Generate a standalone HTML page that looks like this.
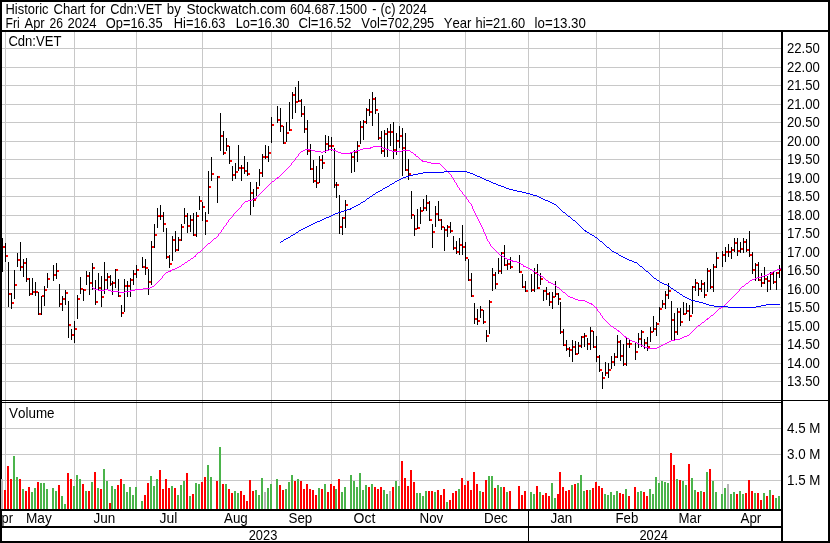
<!DOCTYPE html>
<html lang="en"><head><meta charset="utf-8"><title>Historic Chart for Cdn:VET</title>
<style>html,body{margin:0;padding:0;background:#fff;overflow:hidden}svg{display:block}text{font-family:"Liberation Sans",Arial,sans-serif;font-size:14.5px;font-kerning:none;fill:#000}</style></head><body>
<svg width="830" height="543" viewBox="0 0 830 543">
<rect x="0" y="0" width="830" height="543" fill="#fff"/>
<g shape-rendering="crispEdges">
<path d="M2 48h779v1h-779zM2 67h779v1h-779zM2 85h779v1h-779zM2 104h779v1h-779zM2 122h779v1h-779zM2 141h779v1h-779zM2 159h779v1h-779zM2 178h779v1h-779zM2 196h779v1h-779zM2 215h779v1h-779zM2 233h779v1h-779zM2 252h779v1h-779zM2 270h779v1h-779zM2 289h779v1h-779zM2 307h779v1h-779zM2 326h779v1h-779zM2 344h779v1h-779zM2 363h779v1h-779zM2 381h779v1h-779zM2 428h779v1h-779zM2 454h779v1h-779zM2 480h779v1h-779zM5 32h1v477h-1zM74 32h1v477h-1zM136 32h1v477h-1zM202 32h1v477h-1zM271 32h1v477h-1zM331 32h1v477h-1zM399 32h1v477h-1zM465 32h1v477h-1zM528 32h1v477h-1zM596 32h1v477h-1zM659 32h1v477h-1zM722 32h1v477h-1z" fill="#c8c8c8"/>
<path d="M4 490h2v19h-2zM7 466h2v43h-2zM10 479h2v30h-2zM19 479h2v30h-2zM25 491h2v18h-2zM28 487h2v22h-2zM37 482h2v27h-2zM58 485h2v24h-2zM67 473h2v36h-2zM70 479h2v30h-2zM82 484h2v25h-2zM88 491h2v18h-2zM94 472h2v37h-2zM100 489h2v20h-2zM109 503h2v6h-2zM117 485h2v24h-2zM120 479h2v30h-2zM144 495h2v14h-2zM147 483h2v26h-2zM159 470h2v39h-2zM162 489h2v20h-2zM165 479h2v30h-2zM168 488h2v21h-2zM174 488h2v21h-2zM186 473h2v36h-2zM192 494h2v15h-2zM201 482h2v27h-2zM204 477h2v32h-2zM216 481h2v28h-2zM222 484h2v25h-2zM228 489h2v20h-2zM231 493h2v16h-2zM240 491h2v18h-2zM243 495h2v14h-2zM246 501h2v8h-2zM249 480h2v29h-2zM252 491h2v18h-2zM279 485h2v24h-2zM282 490h2v19h-2zM294 481h2v28h-2zM300 481h2v28h-2zM303 489h2v20h-2zM306 484h2v25h-2zM309 489h2v20h-2zM312 490h2v19h-2zM315 495h2v14h-2zM321 489h2v20h-2zM327 492h2v17h-2zM330 484h2v25h-2zM333 486h2v23h-2zM338 479h2v30h-2zM368 487h2v22h-2zM374 487h2v22h-2zM377 489h2v20h-2zM380 487h2v22h-2zM392 487h2v22h-2zM401 461h2v48h-2zM404 478h2v31h-2zM407 486h2v23h-2zM410 470h2v39h-2zM413 482h2v27h-2zM428 491h2v18h-2zM431 491h2v18h-2zM437 490h2v19h-2zM440 495h2v14h-2zM443 489h2v20h-2zM449 500h2v9h-2zM452 493h2v16h-2zM455 491h2v18h-2zM461 478h2v31h-2zM464 485h2v24h-2zM467 481h2v28h-2zM470 490h2v19h-2zM473 472h2v37h-2zM476 484h2v25h-2zM482 492h2v17h-2zM485 480h2v29h-2zM494 488h2v21h-2zM503 487h2v22h-2zM509 491h2v18h-2zM518 486h2v23h-2zM521 495h2v14h-2zM524 491h2v18h-2zM536 486h2v23h-2zM542 495h2v14h-2zM545 493h2v16h-2zM548 496h2v13h-2zM557 494h2v15h-2zM559 472h2v37h-2zM562 487h2v22h-2zM565 491h2v18h-2zM568 490h2v19h-2zM574 484h2v25h-2zM586 490h2v19h-2zM592 488h2v21h-2zM595 482h2v27h-2zM598 486h2v23h-2zM601 488h2v21h-2zM619 493h2v16h-2zM622 494h2v15h-2zM628 496h2v13h-2zM634 487h2v22h-2zM643 492h2v17h-2zM646 496h2v13h-2zM670 453h2v56h-2zM673 465h2v44h-2zM679 480h2v29h-2zM688 464h2v45h-2zM697 492h2v17h-2zM703 492h2v17h-2zM709 469h2v40h-2zM736 494h2v15h-2zM745 493h2v16h-2zM748 480h2v29h-2zM751 491h2v18h-2zM757 493h2v16h-2zM760 500h2v9h-2zM766 496h2v13h-2zM772 495h2v14h-2z" fill="#ff0000"/>
<path d="M13 456h2v53h-2zM16 477h2v32h-2zM22 489h2v20h-2zM31 492h2v17h-2zM34 488h2v21h-2zM40 483h2v26h-2zM43 483h2v26h-2zM46 489h2v20h-2zM52 488h2v21h-2zM55 491h2v18h-2zM61 496h2v13h-2zM64 504h2v5h-2zM73 486h2v23h-2zM76 475h2v34h-2zM79 479h2v30h-2zM85 491h2v18h-2zM91 482h2v27h-2zM97 488h2v21h-2zM103 469h2v40h-2zM106 481h2v28h-2zM111 486h2v23h-2zM114 489h2v20h-2zM123 484h2v25h-2zM126 492h2v17h-2zM129 487h2v22h-2zM132 495h2v14h-2zM135 487h2v22h-2zM141 501h2v8h-2zM150 476h2v33h-2zM153 486h2v23h-2zM156 479h2v30h-2zM171 486h2v23h-2zM177 495h2v14h-2zM180 485h2v24h-2zM183 481h2v28h-2zM189 496h2v13h-2zM195 483h2v26h-2zM198 484h2v25h-2zM207 465h2v44h-2zM210 477h2v32h-2zM219 447h2v62h-2zM225 484h2v25h-2zM234 491h2v18h-2zM237 493h2v16h-2zM255 490h2v19h-2zM258 495h2v14h-2zM261 478h2v31h-2zM267 488h2v21h-2zM270 484h2v25h-2zM276 479h2v30h-2zM285 489h2v20h-2zM288 482h2v27h-2zM291 475h2v34h-2zM297 479h2v30h-2zM318 488h2v21h-2zM324 484h2v25h-2zM335 489h2v20h-2zM341 492h2v17h-2zM344 487h2v22h-2zM350 475h2v34h-2zM353 481h2v28h-2zM356 487h2v22h-2zM359 473h2v36h-2zM362 490h2v19h-2zM365 485h2v24h-2zM371 484h2v25h-2zM383 490h2v19h-2zM386 494h2v15h-2zM395 481h2v28h-2zM398 486h2v23h-2zM416 493h2v16h-2zM419 493h2v16h-2zM422 496h2v13h-2zM425 491h2v18h-2zM434 492h2v17h-2zM446 502h2v7h-2zM458 489h2v20h-2zM479 491h2v18h-2zM488 476h2v33h-2zM491 476h2v33h-2zM497 485h2v24h-2zM500 487h2v22h-2zM506 492h2v17h-2zM530 492h2v17h-2zM533 494h2v15h-2zM539 492h2v17h-2zM551 483h2v26h-2zM554 498h2v11h-2zM571 485h2v24h-2zM577 483h2v26h-2zM580 475h2v34h-2zM583 491h2v18h-2zM589 490h2v19h-2zM604 494h2v15h-2zM607 495h2v14h-2zM610 492h2v17h-2zM613 495h2v14h-2zM616 491h2v18h-2zM625 489h2v20h-2zM637 492h2v17h-2zM640 491h2v18h-2zM649 489h2v20h-2zM652 494h2v15h-2zM655 477h2v32h-2zM658 483h2v26h-2zM661 481h2v28h-2zM664 482h2v27h-2zM667 483h2v26h-2zM676 479h2v30h-2zM682 481h2v28h-2zM685 485h2v24h-2zM691 478h2v31h-2zM694 490h2v19h-2zM700 491h2v18h-2zM706 472h2v37h-2zM712 481h2v28h-2zM715 492h2v17h-2zM721 494h2v15h-2zM724 488h2v21h-2zM730 494h2v15h-2zM733 492h2v17h-2zM739 491h2v18h-2zM742 494h2v15h-2zM754 493h2v16h-2zM763 493h2v16h-2zM769 490h2v19h-2zM775 498h2v11h-2zM778 496h2v13h-2z" fill="#4bb44b"/>
<path d="M1 479h2v30h-2zM264 492h2v17h-2zM389 491h2v18h-2zM727 484h2v25h-2z" fill="#b4b4b4"/>
<path d="M3 246h2v2h-2zM6 255h2v2h-2zM9 293h2v2h-2zM12 302h2v2h-2zM15 284h2v2h-2zM18 259h2v2h-2zM21 266h2v2h-2zM24 262h2v2h-2zM27 278h2v2h-2zM30 293h2v2h-2zM33 291h2v2h-2zM36 291h2v2h-2zM39 313h2v2h-2zM42 295h2v2h-2zM45 289h2v2h-2zM48 278h2v2h-2zM54 274h2v2h-2zM57 270h2v2h-2zM60 303h2v2h-2zM63 298h2v2h-2zM66 292h2v2h-2zM69 324h2v2h-2zM72 334h2v2h-2zM75 328h2v2h-2zM78 298h2v2h-2zM81 288h2v2h-2zM84 289h2v2h-2zM87 275h2v2h-2zM90 282h2v2h-2zM93 267h2v2h-2zM96 301h2v2h-2zM99 287h2v2h-2zM102 296h2v2h-2zM105 279h2v2h-2zM108 276h2v2h-2zM111 283h2v2h-2zM113 282h2v2h-2zM116 269h2v2h-2zM119 295h2v2h-2zM122 312h2v2h-2zM125 285h2v2h-2zM128 285h2v2h-2zM131 279h2v2h-2zM134 273h2v2h-2zM137 269h2v2h-2zM143 266h2v2h-2zM146 267h2v2h-2zM149 281h2v2h-2zM152 246h2v2h-2zM155 234h2v2h-2zM158 215h2v2h-2zM161 215h2v2h-2zM164 223h2v2h-2zM167 256h2v2h-2zM170 263h2v2h-2zM173 239h2v2h-2zM176 249h2v2h-2zM179 239h2v2h-2zM182 226h2v2h-2zM185 215h2v2h-2zM188 225h2v2h-2zM191 219h2v2h-2zM194 234h2v2h-2zM197 215h2v2h-2zM200 200h2v2h-2zM203 206h2v2h-2zM206 220h2v2h-2zM209 186h2v2h-2zM212 173h2v2h-2zM218 176h2v2h-2zM221 135h2v2h-2zM224 152h2v2h-2zM227 145h2v2h-2zM230 160h2v2h-2zM233 174h2v2h-2zM236 171h2v2h-2zM239 167h2v2h-2zM242 167h2v2h-2zM245 170h2v2h-2zM248 173h2v2h-2zM251 192h2v2h-2zM254 199h2v2h-2zM257 187h2v2h-2zM260 172h2v2h-2zM263 156h2v2h-2zM266 156h2v2h-2zM269 152h2v2h-2zM272 124h2v2h-2zM278 119h2v2h-2zM281 125h2v2h-2zM284 142h2v2h-2zM287 132h2v2h-2zM290 129h2v2h-2zM293 94h2v2h-2zM296 101h2v2h-2zM299 100h2v2h-2zM302 113h2v2h-2zM305 128h2v2h-2zM308 150h2v2h-2zM311 168h2v2h-2zM314 180h2v2h-2zM317 182h2v2h-2zM320 159h2v2h-2zM323 162h2v2h-2zM326 143h2v2h-2zM329 145h2v2h-2zM332 145h2v2h-2zM335 184h2v2h-2zM337 184h2v2h-2zM340 226h2v2h-2zM343 217h2v2h-2zM346 204h2v2h-2zM352 156h2v2h-2zM355 151h2v2h-2zM358 145h2v2h-2zM361 126h2v2h-2zM364 121h2v2h-2zM367 109h2v2h-2zM370 111h2v2h-2zM373 98h2v2h-2zM376 109h2v2h-2zM379 137h2v2h-2zM382 150h2v2h-2zM385 133h2v2h-2zM388 131h2v2h-2zM391 131h2v2h-2zM394 149h2v2h-2zM397 140h2v2h-2zM400 135h2v2h-2zM403 147h2v2h-2zM406 169h2v2h-2zM409 173h2v2h-2zM412 214h2v2h-2zM415 228h2v2h-2zM418 227h2v2h-2zM421 210h2v2h-2zM424 207h2v2h-2zM427 202h2v2h-2zM430 219h2v2h-2zM433 231h2v2h-2zM436 213h2v2h-2zM439 219h2v2h-2zM442 226h2v2h-2zM445 229h2v2h-2zM448 226h2v2h-2zM451 230h2v2h-2zM454 247h2v2h-2zM457 251h2v2h-2zM460 244h2v2h-2zM463 246h2v2h-2zM466 257h2v2h-2zM469 279h2v2h-2zM472 295h2v2h-2zM475 318h2v2h-2zM478 320h2v2h-2zM481 309h2v2h-2zM484 321h2v2h-2zM487 335h2v2h-2zM490 301h2v2h-2zM493 274h2v2h-2zM496 283h2v2h-2zM499 270h2v2h-2zM502 252h2v2h-2zM505 264h2v2h-2zM508 263h2v2h-2zM511 266h2v2h-2zM520 271h2v2h-2zM523 286h2v2h-2zM526 290h2v2h-2zM532 289h2v2h-2zM535 272h2v2h-2zM538 287h2v2h-2zM541 278h2v2h-2zM544 290h2v2h-2zM547 293h2v2h-2zM550 301h2v2h-2zM553 296h2v2h-2zM556 293h2v2h-2zM559 298h2v2h-2zM561 331h2v2h-2zM564 344h2v2h-2zM567 348h2v2h-2zM570 349h2v2h-2zM573 346h2v2h-2zM576 353h2v2h-2zM579 345h2v2h-2zM582 336h2v2h-2zM585 335h2v2h-2zM588 343h2v2h-2zM591 330h2v2h-2zM594 346h2v2h-2zM597 356h2v2h-2zM600 369h2v2h-2zM603 377h2v2h-2zM606 372h2v2h-2zM609 369h2v2h-2zM612 361h2v2h-2zM615 356h2v2h-2zM618 341h2v2h-2zM621 355h2v2h-2zM624 363h2v2h-2zM627 343h2v2h-2zM630 343h2v2h-2zM636 351h2v2h-2zM639 338h2v2h-2zM642 331h2v2h-2zM645 342h2v2h-2zM648 346h2v2h-2zM651 331h2v2h-2zM654 328h2v2h-2zM657 323h2v2h-2zM660 308h2v2h-2zM663 303h2v2h-2zM666 294h2v2h-2zM669 290h2v2h-2zM672 319h2v2h-2zM675 331h2v2h-2zM678 311h2v2h-2zM681 321h2v2h-2zM684 313h2v2h-2zM687 310h2v2h-2zM690 315h2v2h-2zM693 286h2v2h-2zM696 282h2v2h-2zM699 288h2v2h-2zM702 283h2v2h-2zM705 294h2v2h-2zM708 270h2v2h-2zM711 286h2v2h-2zM714 266h2v2h-2zM717 257h2v2h-2zM723 254h2v2h-2zM726 251h2v2h-2zM729 251h2v2h-2zM732 249h2v2h-2zM735 242h2v2h-2zM738 250h2v2h-2zM741 248h2v2h-2zM744 241h2v2h-2zM747 249h2v2h-2zM750 254h2v2h-2zM753 269h2v2h-2zM756 264h2v2h-2zM759 279h2v2h-2zM762 282h2v2h-2zM765 278h2v2h-2zM768 280h2v2h-2zM771 273h2v2h-2zM774 281h2v2h-2zM777 272h2v2h-2zM780 269h2v2h-2z" fill="#ff0000"/>
<path d="M2 238h1v34h-1zM5 243h1v19h-1zM8 262h1v45h-1zM11 293h1v16h-1zM14 270h1v29h-1zM17 253h1v14h-1zM20 242h1v29h-1zM23 259h1v18h-1zM26 258h1v24h-1zM29 278h1v18h-1zM32 278h1v17h-1zM35 282h1v14h-1zM38 292h1v23h-1zM41 296h1v19h-1zM44 286h1v20h-1zM47 273h1v15h-1zM53 265h1v16h-1zM56 263h1v16h-1zM59 284h1v23h-1zM62 296h1v15h-1zM65 290h1v15h-1zM68 301h1v37h-1zM71 329h1v11h-1zM74 321h1v22h-1zM77 295h1v24h-1zM80 277h1v17h-1zM83 289h1v12h-1zM86 271h1v14h-1zM89 272h1v23h-1zM92 263h1v27h-1zM95 280h1v25h-1zM98 273h1v17h-1zM101 276h1v31h-1zM104 262h1v32h-1zM107 273h1v16h-1zM110 275h1v11h-1zM112 281h1v14h-1zM115 269h1v19h-1zM118 279h1v18h-1zM121 305h1v12h-1zM124 279h1v33h-1zM127 281h1v16h-1zM130 278h1v19h-1zM133 270h1v15h-1zM136 265h1v13h-1zM142 257h1v11h-1zM145 259h1v16h-1zM148 269h1v26h-1zM151 241h1v44h-1zM154 224h1v24h-1zM157 208h1v20h-1zM160 205h1v15h-1zM163 212h1v20h-1zM166 228h1v31h-1zM169 255h1v13h-1zM172 236h1v25h-1zM175 231h1v21h-1zM178 237h1v14h-1zM181 224h1v17h-1zM184 208h1v16h-1zM187 213h1v20h-1zM190 215h1v17h-1zM193 213h1v23h-1zM196 212h1v25h-1zM199 196h1v14h-1zM202 202h1v19h-1zM205 212h1v23h-1zM208 171h1v43h-1zM211 157h1v24h-1zM217 176h1v27h-1zM220 113h1v38h-1zM223 131h1v24h-1zM226 138h1v13h-1zM229 146h1v18h-1zM232 166h1v15h-1zM235 163h1v16h-1zM238 145h1v26h-1zM241 165h1v16h-1zM244 156h1v18h-1zM247 162h1v14h-1zM250 182h1v33h-1zM253 189h1v18h-1zM256 182h1v14h-1zM259 169h1v17h-1zM262 154h1v23h-1zM265 145h1v14h-1zM268 146h1v16h-1zM271 117h1v26h-1zM277 106h1v17h-1zM280 108h1v24h-1zM283 126h1v18h-1zM286 122h1v20h-1zM289 102h1v29h-1zM292 92h1v27h-1zM295 87h1v26h-1zM298 81h1v21h-1zM301 99h1v18h-1zM304 106h1v27h-1zM307 120h1v35h-1zM310 144h1v26h-1zM313 160h1v23h-1zM316 166h1v22h-1zM319 156h1v27h-1zM322 155h1v14h-1zM325 135h1v18h-1zM328 136h1v14h-1zM331 137h1v14h-1zM334 148h1v40h-1zM336 182h1v16h-1zM339 195h1v39h-1zM342 217h1v18h-1zM345 200h1v28h-1zM351 153h1v20h-1zM354 150h1v22h-1zM357 141h1v21h-1zM360 121h1v23h-1zM363 120h1v20h-1zM366 108h1v16h-1zM369 99h1v17h-1zM372 92h1v34h-1zM375 97h1v17h-1zM378 113h1v27h-1zM381 131h1v23h-1zM384 130h1v27h-1zM387 128h1v29h-1zM390 124h1v22h-1zM393 122h1v37h-1zM396 133h1v22h-1zM399 126h1v22h-1zM402 128h1v48h-1zM405 133h1v38h-1zM408 159h1v21h-1zM411 191h1v28h-1zM414 215h1v21h-1zM417 209h1v20h-1zM420 207h1v17h-1zM423 199h1v12h-1zM426 195h1v16h-1zM429 201h1v20h-1zM432 224h1v24h-1zM435 206h1v21h-1zM438 201h1v20h-1zM441 219h1v11h-1zM444 227h1v24h-1zM447 225h1v12h-1zM450 222h1v11h-1zM453 236h1v14h-1zM456 241h1v13h-1zM459 238h1v17h-1zM462 225h1v30h-1zM465 242h1v19h-1zM468 259h1v22h-1zM471 273h1v24h-1zM474 303h1v21h-1zM477 309h1v16h-1zM480 306h1v12h-1zM483 310h1v14h-1zM486 330h1v12h-1zM489 300h1v34h-1zM492 268h1v23h-1zM495 272h1v17h-1zM498 258h1v16h-1zM501 252h1v22h-1zM504 245h1v21h-1zM507 260h1v10h-1zM510 257h1v12h-1zM519 255h1v18h-1zM522 274h1v14h-1zM525 281h1v11h-1zM531 274h1v18h-1zM534 268h1v24h-1zM537 264h1v25h-1zM540 273h1v12h-1zM543 290h1v11h-1zM546 287h1v13h-1zM549 292h1v14h-1zM552 292h1v17h-1zM555 281h1v16h-1zM558 293h1v12h-1zM560 302h1v32h-1zM563 329h1v17h-1zM566 340h1v11h-1zM569 347h1v10h-1zM572 340h1v22h-1zM575 341h1v14h-1zM578 342h1v12h-1zM581 336h1v12h-1zM584 333h1v14h-1zM587 338h1v12h-1zM590 327h1v23h-1zM593 331h1v17h-1zM596 336h1v26h-1zM599 355h1v17h-1zM602 372h1v17h-1zM605 362h1v14h-1zM608 363h1v15h-1zM611 356h1v13h-1zM614 353h1v13h-1zM617 335h1v23h-1zM620 340h1v21h-1zM623 344h1v22h-1zM626 338h1v28h-1zM629 340h1v8h-1zM635 343h1v17h-1zM638 333h1v15h-1zM641 330h1v17h-1zM644 339h1v10h-1zM647 337h1v14h-1zM650 327h1v15h-1zM653 316h1v16h-1zM656 322h1v14h-1zM659 307h1v15h-1zM662 300h1v8h-1zM665 291h1v18h-1zM668 283h1v16h-1zM671 301h1v39h-1zM674 313h1v27h-1zM677 308h1v27h-1zM680 308h1v18h-1zM683 302h1v13h-1zM686 303h1v11h-1zM689 305h1v16h-1zM692 286h1v28h-1zM695 279h1v12h-1zM698 283h1v13h-1zM701 280h1v12h-1zM704 282h1v16h-1zM707 268h1v24h-1zM710 269h1v20h-1zM713 264h1v28h-1zM716 252h1v16h-1zM722 251h1v16h-1zM725 247h1v15h-1zM728 244h1v13h-1zM731 247h1v12h-1zM734 238h1v14h-1zM737 238h1v18h-1zM740 242h1v11h-1zM743 238h1v15h-1zM746 239h1v13h-1zM749 231h1v26h-1zM752 252h1v22h-1zM755 263h1v18h-1zM758 262h1v19h-1zM761 273h1v14h-1zM764 267h1v17h-1zM767 276h1v16h-1zM770 272h1v18h-1zM773 272h1v12h-1zM776 272h1v18h-1zM779 265h1v13h-1z" fill="#000"/>
<path d="M373 146h8v1h-8zM370 147h3v1h-3zM381 147h2v1h-2zM363 148h8v1h-8zM383 148h3v1h-3zM305 149h6v1h-6zM329 149h4v1h-4zM360 149h3v1h-3zM386 149h3v1h-3zM303 150h2v1h-2zM311 150h4v1h-4zM326 150h3v1h-3zM333 150h3v1h-3zM356 150h4v1h-4zM389 150h3v1h-3zM402 150h8v1h-8zM301 151h2v1h-2zM315 151h6v1h-6zM323 151h3v1h-3zM336 151h2v1h-2zM353 151h4v1h-4zM392 151h10v1h-10zM410 151h1v1h-1zM300 152h1v1h-1zM321 152h2v1h-2zM338 152h3v1h-3zM350 152h3v1h-3zM411 152h2v1h-2zM299 153h1v1h-1zM341 153h10v1h-10zM413 153h1v1h-1zM298 154h1v1h-1zM414 154h2v1h-2zM298 155h1v1h-1zM415 155h1v1h-1zM297 156h1v1h-1zM416 156h2v1h-2zM296 157h1v1h-1zM418 157h1v1h-1zM295 158h1v1h-1zM419 158h1v1h-1zM295 159h1v1h-1zM420 159h1v1h-1zM294 160h1v1h-1zM421 160h2v1h-2zM293 161h1v1h-1zM422 161h5v1h-5zM292 162h1v1h-1zM427 162h4v1h-4zM291 163h1v1h-1zM431 163h9v1h-9zM291 164h1v1h-1zM440 164h1v1h-1zM290 165h1v1h-1zM441 165h1v1h-1zM289 166h1v1h-1zM442 166h1v1h-1zM288 167h1v1h-1zM443 167h1v1h-1zM287 168h1v1h-1zM444 168h1v1h-1zM286 169h1v1h-1zM445 169h1v1h-1zM285 170h1v1h-1zM446 170h1v1h-1zM284 171h1v1h-1zM447 171h1v1h-1zM283 172h1v1h-1zM448 172h1v1h-1zM282 173h1v1h-1zM449 173h1v1h-1zM281 174h1v1h-1zM450 174h1v1h-1zM280 175h1v1h-1zM451 175h1v1h-1zM279 176h1v1h-1zM451 176h1v1h-1zM277 177h2v1h-2zM452 177h1v1h-1zM276 178h2v1h-2zM453 178h1v1h-1zM275 179h1v1h-1zM453 179h1v1h-1zM274 180h1v1h-1zM454 180h1v1h-1zM272 181h2v1h-2zM454 181h1v1h-1zM271 182h1v1h-1zM455 182h1v1h-1zM270 183h1v1h-1zM456 183h1v1h-1zM269 184h1v1h-1zM456 184h1v1h-1zM268 185h1v1h-1zM457 185h1v1h-1zM267 186h1v1h-1zM457 186h1v1h-1zM266 187h1v1h-1zM458 187h1v1h-1zM265 188h1v1h-1zM459 188h1v1h-1zM264 189h1v1h-1zM459 189h1v1h-1zM263 190h1v1h-1zM460 190h1v1h-1zM262 191h1v1h-1zM461 191h1v1h-1zM261 192h1v1h-1zM462 192h1v1h-1zM260 193h1v1h-1zM462 193h1v1h-1zM259 194h1v1h-1zM463 194h1v1h-1zM258 195h1v1h-1zM464 195h1v1h-1zM257 196h1v1h-1zM465 196h1v1h-1zM256 197h1v1h-1zM466 197h1v1h-1zM254 198h3v1h-3zM466 198h1v1h-1zM252 199h2v1h-2zM467 199h1v1h-1zM248 200h4v1h-4zM468 200h1v1h-1zM245 201h3v1h-3zM468 201h1v1h-1zM244 202h1v1h-1zM469 202h1v1h-1zM243 203h1v1h-1zM470 203h1v1h-1zM242 204h1v1h-1zM471 204h1v1h-1zM241 205h1v1h-1zM471 205h1v1h-1zM241 206h1v1h-1zM472 206h1v1h-1zM240 207h1v1h-1zM472 207h1v1h-1zM239 208h1v1h-1zM472 208h1v1h-1zM238 209h1v1h-1zM473 209h1v1h-1zM237 210h1v1h-1zM473 210h1v1h-1zM236 211h1v1h-1zM474 211h1v1h-1zM235 212h1v1h-1zM474 212h1v1h-1zM234 213h1v1h-1zM475 213h1v1h-1zM233 214h1v1h-1zM475 214h1v1h-1zM233 215h1v1h-1zM476 215h1v1h-1zM232 216h1v1h-1zM476 216h1v1h-1zM231 217h1v1h-1zM477 217h1v1h-1zM230 218h1v1h-1zM477 218h1v1h-1zM229 219h1v1h-1zM478 219h1v1h-1zM228 220h1v1h-1zM478 220h1v1h-1zM228 221h1v1h-1zM479 221h1v1h-1zM227 222h1v1h-1zM479 222h1v1h-1zM226 223h1v1h-1zM480 223h1v1h-1zM226 224h1v1h-1zM480 224h1v1h-1zM225 225h1v1h-1zM481 225h1v1h-1zM224 226h1v1h-1zM481 226h1v1h-1zM223 227h1v1h-1zM482 227h1v1h-1zM223 228h1v1h-1zM482 228h1v1h-1zM222 229h1v1h-1zM483 229h1v1h-1zM221 230h1v1h-1zM483 230h1v1h-1zM221 231h1v1h-1zM483 231h1v1h-1zM220 232h1v1h-1zM484 232h1v1h-1zM219 233h1v1h-1zM484 233h1v1h-1zM218 234h1v1h-1zM485 234h1v1h-1zM218 235h1v1h-1zM485 235h1v1h-1zM217 236h1v1h-1zM486 236h1v1h-1zM216 237h1v1h-1zM486 237h1v1h-1zM214 238h2v1h-2zM486 238h1v1h-1zM213 239h1v1h-1zM487 239h1v1h-1zM212 240h1v1h-1zM487 240h1v1h-1zM211 241h1v1h-1zM488 241h1v1h-1zM210 242h1v1h-1zM489 242h1v1h-1zM208 243h2v1h-2zM489 243h1v1h-1zM207 244h1v1h-1zM490 244h1v1h-1zM206 245h1v1h-1zM490 245h1v1h-1zM205 246h1v1h-1zM491 246h1v1h-1zM204 247h1v1h-1zM492 247h1v1h-1zM203 248h1v1h-1zM493 248h1v1h-1zM202 249h1v1h-1zM494 249h1v1h-1zM201 250h1v1h-1zM495 250h1v1h-1zM200 251h1v1h-1zM496 251h1v1h-1zM198 252h2v1h-2zM497 252h1v1h-1zM197 253h1v1h-1zM498 253h1v1h-1zM196 254h1v1h-1zM499 254h1v1h-1zM195 255h1v1h-1zM500 255h2v1h-2zM194 256h2v1h-2zM502 256h2v1h-2zM193 257h1v1h-1zM504 257h1v1h-1zM191 258h2v1h-2zM505 258h2v1h-2zM190 259h1v1h-1zM507 259h3v1h-3zM188 260h2v1h-2zM510 260h3v1h-3zM187 261h1v1h-1zM512 261h5v1h-5zM185 262h2v1h-2zM517 262h3v1h-3zM184 263h1v1h-1zM520 263h1v1h-1zM182 264h2v1h-2zM521 264h2v1h-2zM181 265h1v1h-1zM523 265h1v1h-1zM179 266h2v1h-2zM523 266h3v1h-3zM177 267h2v1h-2zM526 267h2v1h-2zM175 268h2v1h-2zM528 268h2v1h-2zM780 268h1v1h-1zM172 269h3v1h-3zM530 269h2v1h-2zM777 269h3v1h-3zM170 270h2v1h-2zM532 270h1v1h-1zM775 270h2v1h-2zM168 271h3v1h-3zM533 271h2v1h-2zM773 271h2v1h-2zM166 272h2v1h-2zM535 272h1v1h-1zM771 272h2v1h-2zM165 273h1v1h-1zM536 273h2v1h-2zM769 273h3v1h-3zM164 274h1v1h-1zM538 274h1v1h-1zM767 274h2v1h-2zM163 275h1v1h-1zM539 275h2v1h-2zM764 275h3v1h-3zM162 276h1v1h-1zM541 276h2v1h-2zM761 276h3v1h-3zM162 277h1v1h-1zM543 277h1v1h-1zM757 277h4v1h-4zM161 278h1v1h-1zM544 278h1v1h-1zM755 278h2v1h-2zM160 279h1v1h-1zM545 279h1v1h-1zM752 279h3v1h-3zM159 280h1v1h-1zM546 280h2v1h-2zM750 280h2v1h-2zM158 281h1v1h-1zM548 281h1v1h-1zM749 281h1v1h-1zM157 282h1v1h-1zM548 282h3v1h-3zM748 282h1v1h-1zM156 283h1v1h-1zM551 283h2v1h-2zM746 283h2v1h-2zM155 284h1v1h-1zM553 284h2v1h-2zM745 284h1v1h-1zM154 285h1v1h-1zM555 285h1v1h-1zM744 285h1v1h-1zM152 286h2v1h-2zM556 286h1v1h-1zM742 286h2v1h-2zM92 287h1v1h-1zM150 287h2v1h-2zM557 287h2v1h-2zM741 287h1v1h-1zM93 288h2v1h-2zM143 288h7v1h-7zM559 288h1v1h-1zM740 288h1v1h-1zM95 289h3v1h-3zM105 289h3v1h-3zM135 289h8v1h-8zM560 289h1v1h-1zM739 289h1v1h-1zM98 290h7v1h-7zM108 290h3v1h-3zM130 290h5v1h-5zM561 290h1v1h-1zM739 290h1v1h-1zM111 291h8v1h-8zM125 291h6v1h-6zM562 291h1v1h-1zM738 291h1v1h-1zM119 292h6v1h-6zM563 292h2v1h-2zM737 292h1v1h-1zM565 293h1v1h-1zM736 293h1v1h-1zM566 294h1v1h-1zM735 294h1v1h-1zM567 295h1v1h-1zM734 295h1v1h-1zM568 296h2v1h-2zM733 296h1v1h-1zM570 297h3v1h-3zM732 297h1v1h-1zM573 298h2v1h-2zM731 298h1v1h-1zM575 299h3v1h-3zM730 299h1v1h-1zM578 300h7v1h-7zM729 300h1v1h-1zM585 301h2v1h-2zM728 301h1v1h-1zM587 302h2v1h-2zM727 302h1v1h-1zM589 303h3v1h-3zM726 303h1v1h-1zM591 304h2v1h-2zM725 304h1v1h-1zM593 305h1v1h-1zM724 305h1v1h-1zM594 306h1v1h-1zM723 306h1v1h-1zM595 307h2v1h-2zM721 307h2v1h-2zM596 308h1v1h-1zM719 308h2v1h-2zM597 309h1v1h-1zM718 309h1v1h-1zM597 310h1v1h-1zM717 310h1v1h-1zM598 311h1v1h-1zM716 311h1v1h-1zM599 312h1v1h-1zM715 312h1v1h-1zM600 313h1v1h-1zM714 313h1v1h-1zM600 314h1v1h-1zM713 314h1v1h-1zM601 315h1v1h-1zM711 315h2v1h-2zM602 316h1v1h-1zM710 316h1v1h-1zM602 317h1v1h-1zM709 317h1v1h-1zM603 318h1v1h-1zM707 318h2v1h-2zM604 319h1v1h-1zM706 319h2v1h-2zM605 320h1v1h-1zM705 320h1v1h-1zM606 321h1v1h-1zM704 321h1v1h-1zM607 322h1v1h-1zM702 322h2v1h-2zM608 323h1v1h-1zM701 323h1v1h-1zM609 324h1v1h-1zM700 324h1v1h-1zM610 325h1v1h-1zM698 325h2v1h-2zM611 326h2v1h-2zM697 326h1v1h-1zM613 327h1v1h-1zM696 327h1v1h-1zM614 328h2v1h-2zM695 328h1v1h-1zM616 329h1v1h-1zM694 329h1v1h-1zM617 330h2v1h-2zM693 330h1v1h-1zM618 331h2v1h-2zM692 331h1v1h-1zM620 332h1v1h-1zM691 332h1v1h-1zM621 333h1v1h-1zM690 333h1v1h-1zM622 334h1v1h-1zM689 334h1v1h-1zM623 335h1v1h-1zM687 335h2v1h-2zM624 336h2v1h-2zM684 336h3v1h-3zM625 337h2v1h-2zM682 337h2v1h-2zM627 338h2v1h-2zM680 338h2v1h-2zM629 339h1v1h-1zM675 339h5v1h-5zM630 340h2v1h-2zM671 340h4v1h-4zM632 341h3v1h-3zM669 341h2v1h-2zM635 342h2v1h-2zM667 342h2v1h-2zM637 343h2v1h-2zM665 343h2v1h-2zM639 344h2v1h-2zM663 344h2v1h-2zM641 345h2v1h-2zM661 345h2v1h-2zM643 346h2v1h-2zM659 346h2v1h-2zM645 347h3v1h-3zM657 347h2v1h-2zM648 348h9v1h-9z" fill="#ff00ff"/>
<path d="M444 171h23v1h-23zM423 172h21v1h-21zM467 172h3v1h-3zM418 173h5v1h-5zM470 173h3v1h-3zM413 174h5v1h-5zM473 174h2v1h-2zM409 175h4v1h-4zM475 175h2v1h-2zM406 176h3v1h-3zM477 176h3v1h-3zM403 177h3v1h-3zM480 177h2v1h-2zM401 178h2v1h-2zM482 178h2v1h-2zM399 179h2v1h-2zM484 179h2v1h-2zM397 180h2v1h-2zM486 180h3v1h-3zM395 181h2v1h-2zM489 181h2v1h-2zM394 182h1v1h-1zM491 182h2v1h-2zM392 183h2v1h-2zM493 183h3v1h-3zM390 184h2v1h-2zM496 184h2v1h-2zM389 185h1v1h-1zM498 185h3v1h-3zM387 186h2v1h-2zM501 186h3v1h-3zM385 187h2v1h-2zM504 187h2v1h-2zM383 188h2v1h-2zM506 188h3v1h-3zM382 189h1v1h-1zM509 189h4v1h-4zM380 190h2v1h-2zM513 190h4v1h-4zM378 191h2v1h-2zM517 191h5v1h-5zM376 192h2v1h-2zM522 192h4v1h-4zM375 193h1v1h-1zM526 193h4v1h-4zM373 194h2v1h-2zM530 194h3v1h-3zM372 195h1v1h-1zM533 195h4v1h-4zM370 196h2v1h-2zM537 196h2v1h-2zM369 197h1v1h-1zM539 197h2v1h-2zM367 198h2v1h-2zM541 198h2v1h-2zM366 199h1v1h-1zM543 199h2v1h-2zM365 200h1v1h-1zM545 200h3v1h-3zM363 201h2v1h-2zM548 201h2v1h-2zM361 202h2v1h-2zM550 202h2v1h-2zM360 203h1v1h-1zM552 203h2v1h-2zM358 204h2v1h-2zM554 204h2v1h-2zM356 205h2v1h-2zM556 205h1v1h-1zM354 206h2v1h-2zM557 206h1v1h-1zM352 207h2v1h-2zM558 207h1v1h-1zM350 208h2v1h-2zM559 208h1v1h-1zM347 209h4v1h-4zM560 209h1v1h-1zM344 210h3v1h-3zM561 210h1v1h-1zM341 211h3v1h-3zM562 211h1v1h-1zM338 212h3v1h-3zM563 212h2v1h-2zM335 213h3v1h-3zM565 213h1v1h-1zM333 214h2v1h-2zM566 214h1v1h-1zM331 215h2v1h-2zM567 215h1v1h-1zM329 216h2v1h-2zM568 216h2v1h-2zM326 217h3v1h-3zM570 217h1v1h-1zM324 218h2v1h-2zM571 218h1v1h-1zM322 219h2v1h-2zM572 219h1v1h-1zM320 220h2v1h-2zM573 220h2v1h-2zM317 221h3v1h-3zM575 221h1v1h-1zM315 222h2v1h-2zM576 222h1v1h-1zM313 223h2v1h-2zM577 223h1v1h-1zM311 224h2v1h-2zM578 224h1v1h-1zM309 225h2v1h-2zM579 225h1v1h-1zM307 226h2v1h-2zM580 226h1v1h-1zM305 227h2v1h-2zM581 227h1v1h-1zM303 228h2v1h-2zM582 228h1v1h-1zM301 229h2v1h-2zM583 229h1v1h-1zM299 230h2v1h-2zM584 230h2v1h-2zM298 231h1v1h-1zM585 231h2v1h-2zM296 232h2v1h-2zM587 232h2v1h-2zM295 233h1v1h-1zM589 233h1v1h-1zM293 234h2v1h-2zM590 234h2v1h-2zM291 235h2v1h-2zM592 235h2v1h-2zM290 236h1v1h-1zM594 236h1v1h-1zM288 237h2v1h-2zM595 237h2v1h-2zM286 238h2v1h-2zM597 238h1v1h-1zM284 239h2v1h-2zM598 239h1v1h-1zM283 240h1v1h-1zM599 240h1v1h-1zM281 241h2v1h-2zM600 241h2v1h-2zM280 242h1v1h-1zM602 242h1v1h-1zM603 243h1v1h-1zM604 244h1v1h-1zM605 245h1v1h-1zM606 246h1v1h-1zM607 247h2v1h-2zM609 248h1v1h-1zM610 249h1v1h-1zM611 250h1v1h-1zM612 251h2v1h-2zM614 252h2v1h-2zM616 253h2v1h-2zM618 254h1v1h-1zM619 255h2v1h-2zM621 256h2v1h-2zM623 257h2v1h-2zM625 258h2v1h-2zM627 259h2v1h-2zM629 260h3v1h-3zM632 261h2v1h-2zM634 262h3v1h-3zM637 263h1v1h-1zM638 264h1v1h-1zM639 265h1v1h-1zM640 266h2v1h-2zM642 267h1v1h-1zM643 268h1v1h-1zM644 269h1v1h-1zM645 270h1v1h-1zM646 271h2v1h-2zM648 272h1v1h-1zM649 273h1v1h-1zM650 274h1v1h-1zM651 275h1v1h-1zM652 276h1v1h-1zM653 277h1v1h-1zM654 278h2v1h-2zM656 279h1v1h-1zM657 280h2v1h-2zM659 281h1v1h-1zM660 282h2v1h-2zM662 283h2v1h-2zM664 284h3v1h-3zM667 285h2v1h-2zM669 286h1v1h-1zM670 287h1v1h-1zM671 288h2v1h-2zM673 289h1v1h-1zM674 290h2v1h-2zM676 291h1v1h-1zM677 292h2v1h-2zM679 293h1v1h-1zM680 294h2v1h-2zM682 295h1v1h-1zM683 296h2v1h-2zM685 297h2v1h-2zM687 298h2v1h-2zM689 299h2v1h-2zM691 300h4v1h-4zM695 301h4v1h-4zM699 302h4v1h-4zM703 303h3v1h-3zM706 304h3v1h-3zM766 304h14v1h-14zM709 305h5v1h-5zM761 305h5v1h-5zM714 306h14v1h-14zM756 306h5v1h-5zM728 307h28v1h-28z" fill="#0000ff"/>
<path d="M0 0h830v2h-830zM0 541h830v2h-830zM0 0h2v543h-2zM828 0h2v543h-2zM0 30h830v2h-830zM781 32h2v509h-2zM2 400h826v1h-826zM2 402h779v1h-779zM2 509h779v2h-779zM2 526h779v2h-779zM528 511h1v30h-1z" fill="#000"/>
</g>
<text y="14"><tspan x="5.50" textLength="43.00" lengthAdjust="spacingAndGlyphs">Historic</tspan> <tspan x="53.50" textLength="32.00" lengthAdjust="spacingAndGlyphs">Chart</tspan> <tspan x="90.00" textLength="15.50" lengthAdjust="spacingAndGlyphs">for</tspan> <tspan x="110.28" textLength="51.72" lengthAdjust="spacingAndGlyphs">Cdn:VET</tspan> <tspan x="166.78" textLength="14.00" lengthAdjust="spacingAndGlyphs">by</tspan> <tspan x="186.42" textLength="99.44" lengthAdjust="spacingAndGlyphs">Stockwatch.com</tspan> <tspan x="289.92" textLength="77.22" lengthAdjust="spacingAndGlyphs">604.687.1500</tspan> <tspan x="372.36" textLength="4.14" lengthAdjust="spacingAndGlyphs">-</tspan> <tspan x="380.50" textLength="15.08" lengthAdjust="spacingAndGlyphs">(c)</tspan> <tspan x="398.78" textLength="28.00" lengthAdjust="spacingAndGlyphs">2024</tspan></text>
<text y="28"><tspan x="5.50" textLength="14.14" lengthAdjust="spacingAndGlyphs">Fri</tspan> <tspan x="24.50" textLength="20.14" lengthAdjust="spacingAndGlyphs">Apr</tspan> <tspan x="49.50" textLength="13.50" lengthAdjust="spacingAndGlyphs">26</tspan> <tspan x="67.50" textLength="29.14" lengthAdjust="spacingAndGlyphs">2024</tspan> <tspan x="105.85" textLength="56.79" lengthAdjust="spacingAndGlyphs">Op=16.35</tspan> <tspan x="173.85" textLength="51.65" lengthAdjust="spacingAndGlyphs">Hi=16.63</tspan> <tspan x="235.64" textLength="53.86" lengthAdjust="spacingAndGlyphs">Lo=16.30</tspan> <tspan x="298.42" textLength="52.94" lengthAdjust="spacingAndGlyphs">Cl=16.52</tspan> <tspan x="361.22" textLength="73.06" lengthAdjust="spacingAndGlyphs">Vol=702,295</tspan> <tspan x="443.72" textLength="27.70" lengthAdjust="spacingAndGlyphs">Year</tspan> <tspan x="475.56" textLength="49.72" lengthAdjust="spacingAndGlyphs">hi=21.60</tspan> <tspan x="534.56" textLength="51.30" lengthAdjust="spacingAndGlyphs">lo=13.30</tspan></text>
<text x="8.42" y="46" textLength="53.00" lengthAdjust="spacingAndGlyphs">Cdn:VET</text>
<text x="9.10" y="418" textLength="45.50" lengthAdjust="spacingAndGlyphs">Volume</text>
<text x="787.00" y="53" textLength="32.86" lengthAdjust="spacingAndGlyphs">22.50</text>
<text x="787.00" y="72" textLength="32.86" lengthAdjust="spacingAndGlyphs">22.00</text>
<text x="787.00" y="90" textLength="32.86" lengthAdjust="spacingAndGlyphs">21.50</text>
<text x="787.00" y="109" textLength="32.86" lengthAdjust="spacingAndGlyphs">21.00</text>
<text x="787.00" y="127" textLength="32.86" lengthAdjust="spacingAndGlyphs">20.50</text>
<text x="787.00" y="146" textLength="32.86" lengthAdjust="spacingAndGlyphs">20.00</text>
<text x="787.00" y="164" textLength="32.86" lengthAdjust="spacingAndGlyphs">19.50</text>
<text x="787.00" y="183" textLength="32.86" lengthAdjust="spacingAndGlyphs">19.00</text>
<text x="787.00" y="201" textLength="32.86" lengthAdjust="spacingAndGlyphs">18.50</text>
<text x="787.00" y="220" textLength="32.86" lengthAdjust="spacingAndGlyphs">18.00</text>
<text x="787.00" y="238" textLength="32.86" lengthAdjust="spacingAndGlyphs">17.50</text>
<text x="787.00" y="257" textLength="32.86" lengthAdjust="spacingAndGlyphs">17.00</text>
<text x="787.00" y="275" textLength="32.86" lengthAdjust="spacingAndGlyphs">16.50</text>
<text x="787.00" y="294" textLength="32.86" lengthAdjust="spacingAndGlyphs">16.00</text>
<text x="787.00" y="312" textLength="32.86" lengthAdjust="spacingAndGlyphs">15.50</text>
<text x="787.00" y="331" textLength="32.86" lengthAdjust="spacingAndGlyphs">15.00</text>
<text x="787.00" y="349" textLength="32.86" lengthAdjust="spacingAndGlyphs">14.50</text>
<text x="787.00" y="368" textLength="32.86" lengthAdjust="spacingAndGlyphs">14.00</text>
<text x="787.00" y="386" textLength="32.86" lengthAdjust="spacingAndGlyphs">13.50</text>
<text x="787.00" y="433" textLength="33.44" lengthAdjust="spacingAndGlyphs">4.5 M</text>
<text x="787.00" y="459" textLength="33.44" lengthAdjust="spacingAndGlyphs">3.0 M</text>
<text x="787.00" y="485" textLength="33.44" lengthAdjust="spacingAndGlyphs">1.5 M</text>
<text x="26.00" y="523" textLength="25.80" lengthAdjust="spacingAndGlyphs">May</text>
<text x="93.50" y="523" textLength="21.80" lengthAdjust="spacingAndGlyphs">Jun</text>
<text x="159.50" y="523" textLength="17.80" lengthAdjust="spacingAndGlyphs">Jul</text>
<text x="224.00" y="523" textLength="23.80" lengthAdjust="spacingAndGlyphs">Aug</text>
<text x="288.50" y="523" textLength="23.80" lengthAdjust="spacingAndGlyphs">Sep</text>
<text x="353.50" y="523" textLength="21.80" lengthAdjust="spacingAndGlyphs">Oct</text>
<text x="419.50" y="523" textLength="23.80" lengthAdjust="spacingAndGlyphs">Nov</text>
<text x="484.00" y="523" textLength="23.80" lengthAdjust="spacingAndGlyphs">Dec</text>
<text x="550.50" y="523" textLength="21.80" lengthAdjust="spacingAndGlyphs">Jan</text>
<text x="615.50" y="523" textLength="22.80" lengthAdjust="spacingAndGlyphs">Feb</text>
<text x="678.50" y="523" textLength="22.80" lengthAdjust="spacingAndGlyphs">Mar</text>
<text x="740.50" y="523" textLength="20.80" lengthAdjust="spacingAndGlyphs">Apr</text>
<text x="248.70" y="540" textLength="28.60" lengthAdjust="spacingAndGlyphs">2023</text>
<text x="639.40" y="540" textLength="28.60" lengthAdjust="spacingAndGlyphs">2024</text>
<text x="-7.00" y="523" textLength="20.00" lengthAdjust="spacingAndGlyphs">Apr</text>
<rect x="0" y="505" width="2" height="38" fill="#000" shape-rendering="crispEdges"/>
<rect x="1" y="479" width="2" height="30" fill="#b4b4b4" shape-rendering="crispEdges"/>
</svg></body></html>
